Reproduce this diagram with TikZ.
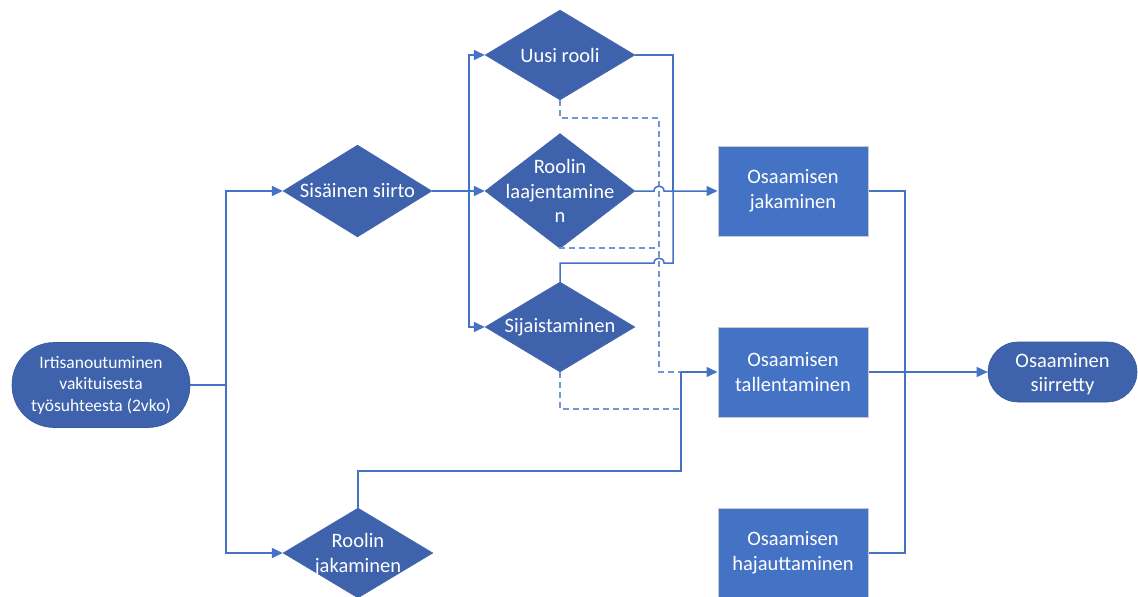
\documentclass[tikz,border=0pt]{standalone}
\usepackage{fontspec}
\setmainfont{Carlito}
\usetikzlibrary{shapes.geometric,arrows.meta}
\definecolor{lineblue}{HTML}{4472C4}
\definecolor{dashblue}{HTML}{6F97D6}
\definecolor{darkfill}{HTML}{3E63AC}
\definecolor{rectfill}{HTML}{4472C4}
\definecolor{rectedge}{HTML}{C3CAD6}
\definecolor{termedge}{HTML}{36599C}
\begin{document}
\begin{tikzpicture}[x=1pt,y=-1pt,
  txt/.style={text=white,align=center,font=\fontsize{20.5}{24.7}\selectfont,inner sep=0pt},
  smalltxt/.style={text=white,align=center,font=\fontsize{17.5}{21.5}\selectfont,inner sep=0pt},
  decision/.style={diamond,fill=darkfill,draw=darkfill,line width=0.4pt,inner sep=0pt,
    minimum width=150pt,minimum height=90pt},
  process/.style={rectangle,fill=rectfill,draw=rectedge,line width=1pt,inner sep=0pt,
    minimum width=150pt,minimum height=90pt},
  terminal/.style={rectangle,fill=darkfill,draw=termedge,line width=0.6pt,inner sep=0pt},
  conn/.style={draw=lineblue,line width=1.5pt},
  arr/.style={conn,-{Triangle[length=11pt,width=10pt]}},
  dashconn/.style={draw=dashblue,line width=1.5pt,dash pattern=on 6pt off 4pt}
]
\path[use as bounding box] (0,0) rectangle (1138,597);

% start and end terminals
\node[terminal,rounded corners=42pt,minimum width=178pt,minimum height=85pt] (start) at (101,385) {};
\node[smalltxt] (startt) at (start.center) {Irtisanoutuminen\\vakituisesta\\työsuhteesta (2vko)};
\node[terminal,rounded corners=30pt,minimum width=149pt,minimum height=60pt] (goal) at (1062.5,372) {};
\node[txt] (goalt) at (1062.5,374) {Osaaminen\\siirretty};

% decisions
\node[decision,minimum width=149pt,minimum height=92pt] (sis) at (357.5,191) {};
\node[txt] (sist) at (sis.center) {Sisäinen siirto};
\node[decision] (rj) at (358,553) {};
\node[txt] (rjt) at (358,554.5) {Roolin\\jakaminen};
\node[decision] (uusi) at (560,55) {};
\node[txt] (uusit) at (uusi.center) {Uusi rooli};
\node[decision,minimum height=115pt] (laaj) at (560,191) {};
\node[txt] (laajt) at (laaj.center) {Roolin\\laajentamine\\n};
\node[decision] (sij) at (560,327) {};
\node[txt] (sijt) at (sij.center) {Sijaistaminen};

% processes
\node[process] (osj) at (793,191) {};
\node[txt] (osjt) at (osj.center) {Osaamisen\\jakaminen};
\node[process] (ost) at (793,372) {};
\node[txt] (ostt) at (ost.center) {Osaamisen\\tallentaminen};
\node[process] (osh) at (793,553) {};
\node[txt] (osht) at (osh.center) {Osaamisen\\hajauttaminen};

% junction points
\coordinate (splitA) at (226,385);
\coordinate (splitB) at (469,191);
\coordinate (mergeJ) at (673,191);
\coordinate (mergeT) at (681,372);

% dashed feeds into the storing step
\draw[dashconn] (uusi.south) -- (560,118) -- (659,118) -- (659,372) -- (mergeT);
\draw[dashconn] (laaj.south) |- (659,248);
\draw[dashconn] (sij.south) |- (681,409);

% from the start
\draw[conn] (start.east) -- (splitA);
\draw[arr] (splitA) |- (sis.west);
\draw[arr] (splitA) |- (rj.west);

% internal transfer branches
\draw[conn] (sis.east) -- (splitB);
\draw[arr] (splitB) |- (uusi.west);
\draw[arr] (splitB) -- (laaj.west);
\draw[arr] (splitB) |- (sij.west);

% into knowledge sharing, hopping over the dashed line
\draw[conn] (uusi.east) -| (mergeJ);
\draw[arr] (laaj.east) -- (654,191) .. controls (654,184.5) and (664,184.5) .. (664,191) -- (osj.west);
\draw[conn] (sij.north) -- (560,263) -- (654,263) .. controls (654,256.5) and (664,256.5) .. (664,263) -- (673,263) -- (mergeJ);

% role sharing into storing
\draw[conn] (rj.north) -- (358,471) -| (mergeT);
\draw[arr] (mergeT) -- (ost.west);

% to the end
\draw[conn] (osj.east) -| (905,553) -- (osh.east);
\draw[arr] (ost.east) -- (goal.west);
\end{tikzpicture}
\end{document}
